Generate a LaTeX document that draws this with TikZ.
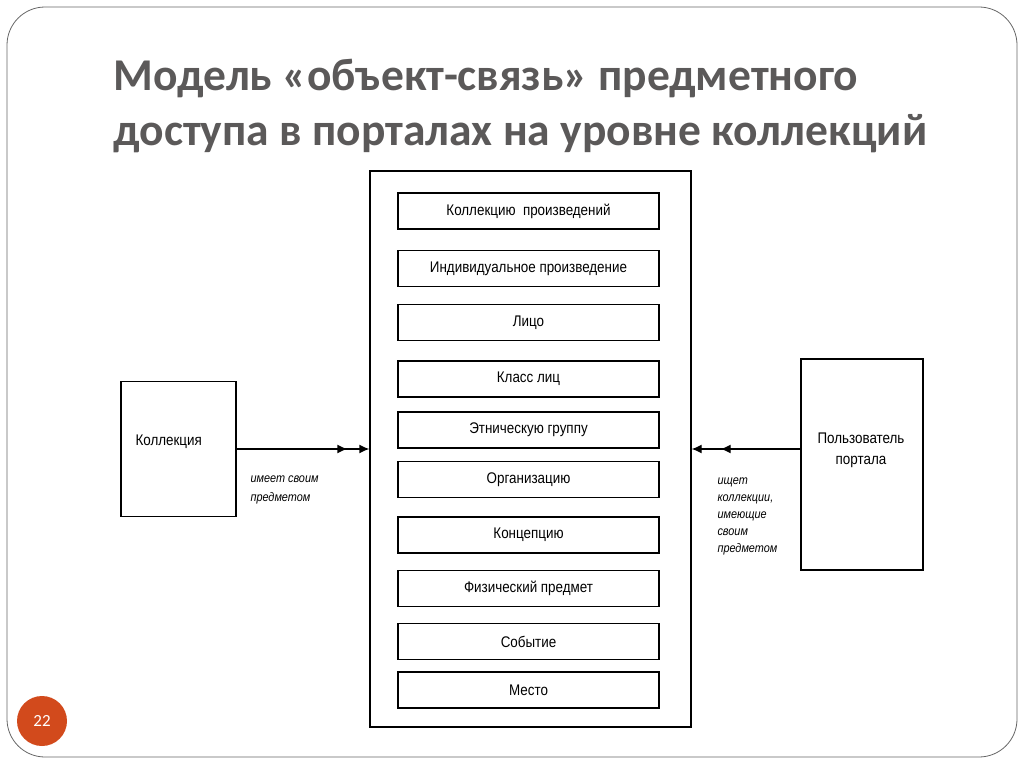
\documentclass[tikz,border=0pt]{standalone}
\usepackage{fontspec}
\setmainfont{Liberation Sans}
\newfontfamily\titlefont{Carlito}
\newfontfamily\diagfont[FakeStretch=0.87]{Liberation Sans}
\usetikzlibrary{arrows.meta,calc}
\definecolor{titlegray}{HTML}{5B5959}
\definecolor{slideorange}{HTML}{D24A1C}

\begin{document}
\begin{tikzpicture}[x=1pt,y=-1pt,
    box/.style={draw, line width=1.3pt, inner sep=0pt},
    item/.style={box, minimum width=261pt, minimum height=36pt,
      font=\diagfont\fontsize{15.4}{18}\selectfont},
    note/.style={anchor=north west, align=left,
      font=\diagfont\itshape\fontsize{12.5}{17}\selectfont},
    heading/.style={anchor=base west, text=titlegray,
      font=\titlefont\bfseries\fontsize{45.5}{56}\selectfont},
    dbl/.style={line width=1.3pt,
      -{Latex[length=10pt,width=9pt,sep=12pt]Latex[length=10pt,width=9pt]}}]
      \useasboundingbox (0,0) rectangle (1024,768);

      %% slide frame and title
      \draw [gray!80!black, line width=0.8pt, rounded corners=38pt] (7,7) rectangle (1017,757);
      \node [heading] (title1) at (110,90) {Модель «объект-связь» предметного};
      \node [heading] (title2) at (110,145) {доступа в порталах на уровне коллекций};

      %% main box with the subjects
      \node [box, minimum width=321pt, minimum height=556pt] (main) at (530.5,449) {};
      \foreach \y/\name/\txt in {211/w1/Коллекцию~~произведений,
                                 268.5/w2/Индивидуальное произведение,
                                 322.5/w3/Лицо,
                                 379/w4/Класс лиц,
                                 430/w5/Этническую группу,
                                 479.5/w6/Организацию,
                                 535/w7/Концепцию,
                                 588.5/w8/Физический предмет,
                                 641.5/w9/Событие,
                                 690/w10/Место}
        \node [item] (\name) at (528.5,\y) {\txt};

      %% collection
      \node [box, minimum width=115pt, minimum height=135pt] (coll) at (178.5,449) {};
      \node [anchor=west, font=\diagfont\fontsize{15.4}{18}\selectfont] (colltxt) at (132,442) {Коллекция};
      \draw [dbl] (coll.east) -- (main.west);
      \node [note, font=\diagfont\itshape\fontsize{12.5}{19}\selectfont] (has) at (247,472) {имеет своим\\предметом};

      %% portal user
      \node [box, minimum width=122pt, minimum height=211pt] (user) at (862,464.5) {};
      \node [align=center, font=\diagfont\fontsize{15.4}{21}\selectfont] (usertxt) at (861,450) {Пользователь\\портала};
      \draw [dbl, -{Latex[length=10pt,width=9pt,sep=19pt]Latex[length=10pt,width=9pt]}]
        (main.east -| user.west) -- (main.east);
      \node [note] (seeks) at (714,474) {ищет\\коллекции,\\имеющие\\своим\\предметом};

      %% slide number
      \node [circle, fill=slideorange, minimum size=50pt, text=white,
        font=\titlefont\fontsize{17}{20}\selectfont] (num) at (42,721) {22};
\end{tikzpicture}
\end{document}
